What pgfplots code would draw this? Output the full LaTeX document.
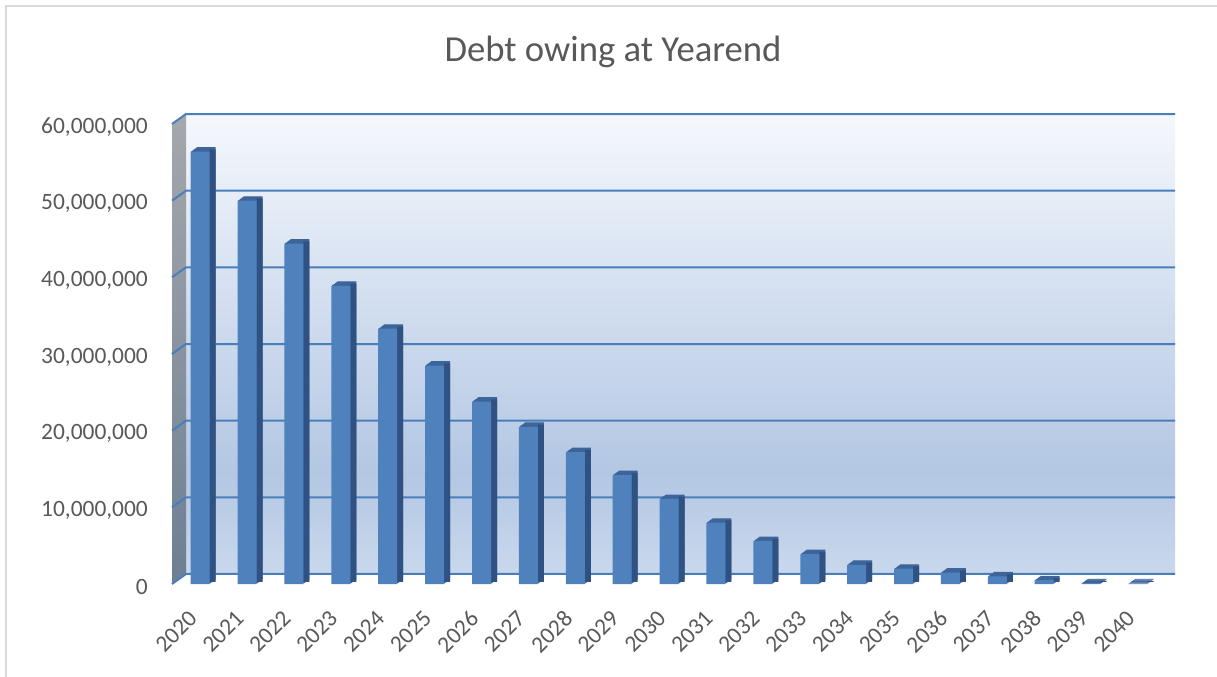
\documentclass[border=0pt]{standalone}
\usepackage{pgfplots}
\pgfplotsset{compat=1.18}
\usepackage{pgfplotstable}
\usepackage{fontspec}
\setmainfont{Carlito}
\definecolor{txt}{HTML}{595959}
\definecolor{barfront}{HTML}{4F81BD}
\definecolor{barside}{HTML}{2F5283}
\definecolor{bartop}{HTML}{3D6599}
\definecolor{gridc}{HTML}{4A7EBB}
\definecolor{walltop}{HTML}{F5F8FD}
\definecolor{wallmid}{HTML}{B3C7E3}
\definecolor{wallbot}{HTML}{C9D8EC}
\definecolor{sidetop}{HTML}{A5A8AC}
\definecolor{sidebot}{HTML}{6D7F93}
\definecolor{border}{HTML}{D9D9D9}
\pgfdeclareverticalshading{wall}{100bp}{color(0bp)=(wallbot); color(25bp)=(wallbot); color(36bp)=(wallmid); color(75bp)=(walltop); color(100bp)=(walltop)}
\pgfdeclareverticalshading{sidewall}{100bp}{color(0bp)=(sidebot); color(25bp)=(sidebot); color(75bp)=(sidetop); color(100bp)=(sidetop)}

\pgfplotstableread{
x y
0 56400000
1 50000000
2 44400000
3 38900000
4 33300000
5 28500000
6 23800000
7 20500000
8 17200000
9 14200000
10 11100000
11 8000000
12 5600000
13 3900000
14 2500000
15 2000000
16 1500000
17 1000000
18 500000
19 110000
20 80000
}\debt

\begin{document}
\begin{tikzpicture}
\fill[white] (0,0) rectangle (1217bp,677bp);
\useasboundingbox (0,0) rectangle (1217bp,677bp);
\draw[line width=1.7bp, border] (5.8bp,0) -- (5.8bp,671.2bp) -- (1217bp,671.2bp);
\node[anchor=base, font=\fontsize{36.8}{44}\selectfont, text=txt] at (613bp,615bp) {Debt owing at Yearend};
\begin{axis}[
  at={(172bp,93bp)}, anchor=south west,
  width=989bp, height=460bp, scale only axis,
  xmin=-0.6, xmax=20.49, ymin=0, ymax=60000000,
  axis line style={draw=none},
  tick style={draw=none},
  xtick={0,...,20},
  xticklabels={2020,2021,2022,2023,2024,2025,2026,2027,2028,2029,2030,2031,2032,2033,2034,2035,2036,2037,2038,2039,2040},
  ytick={0,10000000,20000000,30000000,40000000,50000000,60000000},
  scaled y ticks=false,
  /pgf/number format/assume math mode=true,
  yticklabel={\pgfmathprintnumber[fixed,precision=0,1000 sep={,}]{\tick}},
  yticklabel style={anchor=east, inner sep=0pt, xshift=-24bp, yshift=-3bp, font=\fontsize{23.5}{28}\selectfont, text=txt},
  xticklabel style={xshift=-12.7bp, yshift=-25bp, rotate=45, anchor=north east, inner sep=0pt, font=\fontsize{23.5}{28}\selectfont, text=txt},
  clip=false,
]
% back wall
\shade[shading=wall] ([shift={(14bp,10bp)}]axis cs:-0.6,0) rectangle ([shift={(14bp,10bp)}]axis cs:20.49,60000000);
% side wall
\shade[shading=sidewall] (axis cs:-0.6,0) -- ([shift={(14bp,10bp)}]axis cs:-0.6,0) -- ([shift={(14bp,10bp)}]axis cs:-0.6,60000000) -- (axis cs:-0.6,60000000) -- cycle;
% gridlines
\pgfplotsinvokeforeach{0,10000000,20000000,30000000,40000000,50000000,60000000}{
  \draw[gridc, line width=2bp] (axis cs:-0.6,#1) -- ([shift={(14bp,10bp)}]axis cs:-0.6,#1) -- ([shift={(14bp,10bp)}]axis cs:20.49,#1);
}
% bar depth (top face)
\addplot[ybar, bar width=19bp, bar shift=0pt, fill=bartop, draw=none, xshift=0.75bp, yshift=0.55bp] table[x=x,y=y] {\debt};
\addplot[ybar, bar width=19bp, bar shift=0pt, fill=bartop, draw=none, xshift=1.5bp, yshift=1.1bp] table[x=x,y=y] {\debt};
\addplot[ybar, bar width=19bp, bar shift=0pt, fill=bartop, draw=none, xshift=2.25bp, yshift=1.65bp] table[x=x,y=y] {\debt};
\addplot[ybar, bar width=19bp, bar shift=0pt, fill=bartop, draw=none, xshift=3bp, yshift=2.2bp] table[x=x,y=y] {\debt};
\addplot[ybar, bar width=19bp, bar shift=0pt, fill=bartop, draw=none, xshift=3.75bp, yshift=2.75bp] table[x=x,y=y] {\debt};
\addplot[ybar, bar width=19bp, bar shift=0pt, fill=bartop, draw=none, xshift=4.5bp, yshift=3.3bp] table[x=x,y=y] {\debt};
\addplot[ybar, bar width=19bp, bar shift=0pt, fill=bartop, draw=none, xshift=5.25bp, yshift=3.85bp] table[x=x,y=y] {\debt};
\addplot[ybar, bar width=19bp, bar shift=0pt, fill=bartop, draw=none, xshift=6bp, yshift=4.4bp] table[x=x,y=y] {\debt};
% side face
\addplot[ybar, bar width=6bp, bar shift=12.5bp, fill=barside, draw=none, yshift=2.2bp] table[x=x,y=y] {\debt};
% front face
\addplot[ybar, bar width=19bp, bar shift=0pt, fill=barfront, draw=none] table[x=x,y=y] {\debt};
\end{axis}
\end{tikzpicture}
\end{document}
